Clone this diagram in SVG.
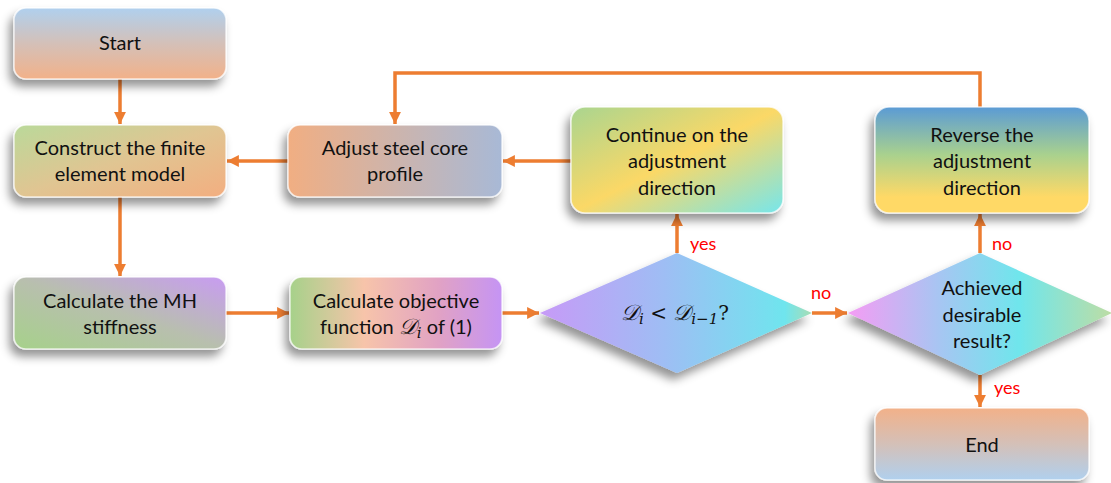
<svg xmlns="http://www.w3.org/2000/svg" width="1111" height="483" viewBox="0 0 1111 483">
<defs>
  <filter id="sh" x="-20%" y="-20%" width="140%" height="160%">
    <feDropShadow dx="-4" dy="7" stdDeviation="5" flood-color="#000" flood-opacity="0.42"/>
  </filter>
  <linearGradient id="gStart" x1="0" y1="0" x2="0" y2="1">
    <stop offset="0" stop-color="#B0D0EE"/><stop offset="0.5" stop-color="#D4C0B8"/><stop offset="1" stop-color="#F2B189"/>
  </linearGradient>
  <linearGradient id="gEnd" x1="0" y1="0" x2="0" y2="1">
    <stop offset="0" stop-color="#F2B189"/><stop offset="0.5" stop-color="#D4C0B8"/><stop offset="1" stop-color="#B0D0EE"/>
  </linearGradient>
  <linearGradient id="gCons" x1="0" y1="0" x2="1" y2="1">
    <stop offset="0" stop-color="#BAD99A"/><stop offset="0.5" stop-color="#E0C592"/><stop offset="1" stop-color="#F3AE80"/>
  </linearGradient>
  <linearGradient id="gAdj" x1="0" y1="0" x2="1" y2="0">
    <stop offset="0" stop-color="#F1AE82"/><stop offset="0.5" stop-color="#CDB4AC"/><stop offset="1" stop-color="#A8B9D6"/>
  </linearGradient>
  <linearGradient id="gCont" x1="0" y1="0" x2="1" y2="1">
    <stop offset="0" stop-color="#A9D590"/><stop offset="0.5" stop-color="#FBD866"/><stop offset="1" stop-color="#76E6EC"/>
  </linearGradient>
  <linearGradient id="gRev" x1="0" y1="0" x2="0" y2="1">
    <stop offset="0" stop-color="#5B9BD5"/><stop offset="0.45" stop-color="#A9D18E"/><stop offset="0.85" stop-color="#FFD966"/><stop offset="1" stop-color="#FFD966"/>
  </linearGradient>
  <linearGradient id="gMH" x1="0" y1="1" x2="1" y2="0">
    <stop offset="0" stop-color="#A6D18A"/><stop offset="0.5" stop-color="#B8BFAE"/><stop offset="1" stop-color="#C89CF2"/>
  </linearGradient>
  <linearGradient id="gObj" x1="0" y1="0" x2="1" y2="0">
    <stop offset="0" stop-color="#A6D18A"/><stop offset="0.35" stop-color="#F7C4AA"/><stop offset="0.7" stop-color="#E1A2C4"/><stop offset="1" stop-color="#C594F4"/>
  </linearGradient>
  <linearGradient id="gD1" x1="0" y1="0" x2="1" y2="0">
    <stop offset="0" stop-color="#C79AF7"/><stop offset="0.45" stop-color="#9FBDF4"/><stop offset="0.9" stop-color="#6FE5EE"/><stop offset="1" stop-color="#A8DDB4"/>
  </linearGradient>
  <linearGradient id="gD2" x1="0" y1="0" x2="1" y2="0">
    <stop offset="0" stop-color="#F59CF4"/><stop offset="0.35" stop-color="#A6C6F2"/><stop offset="0.65" stop-color="#6FE6EC"/><stop offset="1" stop-color="#BDDDA4"/>
  </linearGradient>
  <marker id="ah" viewBox="0 0 10 10" refX="10" refY="5" markerWidth="3.4" markerHeight="3.4" orient="auto" markerUnits="strokeWidth">
    <path d="M0,0 L10,5 L0,10 Z" fill="#ED7D31"/>
  </marker>
  <style>
    .box { stroke: #ffffff; stroke-opacity: 0.7; stroke-width: 1.5; filter: url(#sh); }
    .t { font-family: Lato, "Liberation Sans", sans-serif; font-size: 20px; fill: #111; text-anchor: middle; }
    .m { font-family: "DejaVu Serif", "Liberation Serif", serif; font-style: italic; font-size: 22px; }
    .s { font-family: "DejaVu Serif", "Liberation Serif", serif; font-style: italic; font-size: 15px; }
    .op { font-family: "DejaVu Serif", "Liberation Serif", serif; font-size: 20px; }
    .lbl { font-family: Lato, "Liberation Sans", sans-serif; font-size: 18px; fill: #FF0000; }
    .c { fill: none; stroke: #ED7D31; stroke-width: 3.5; marker-end: url(#ah); }
  </style>
</defs>

<g id="connectors">
  <path class="c" d="M120,79 V124"/>
  <path class="c" d="M120,197 V276"/>
  <path class="c" d="M288,161 H227"/>
  <path class="c" d="M571,161 H503"/>
  <path class="c" d="M226,313 H289"/>
  <path class="c" d="M502,313 H539"/>
  <path class="c" d="M677,253 V214"/>
  <path class="c" d="M812,313 H847"/>
  <path class="c" d="M980,253 V214"/>
  <path class="c" d="M980,375 V407"/>
  <path class="c" d="M980,107 V73 H395 V124"/>
  <text class="lbl" x="690" y="250">yes</text>
  <text class="lbl" x="811" y="299">no</text>
  <text class="lbl" x="992" y="250">no</text>
  <text class="lbl" x="994" y="394">yes</text>
</g>

<g id="start">
  <rect class="box" x="14" y="8" width="212" height="71" rx="12" fill="url(#gStart)"/>
  <text class="t" x="120" y="50">Start</text>
</g>
<g id="construct">
  <rect class="box" x="14" y="125" width="212" height="72" rx="12" fill="url(#gCons)"/>
  <text class="t" x="120" y="155">Construct the finite</text>
  <text class="t" x="120" y="181">element model</text>
</g>
<g id="adjust">
  <rect class="box" x="288" y="125" width="214" height="72" rx="12" fill="url(#gAdj)"/>
  <text class="t" x="395" y="155">Adjust steel core</text>
  <text class="t" x="395" y="181">profile</text>
</g>
<g id="continue">
  <rect class="box" x="571" y="107" width="212" height="106" rx="14" fill="url(#gCont)"/>
  <text class="t" x="677" y="142">Continue on the</text>
  <text class="t" x="677" y="168">adjustment</text>
  <text class="t" x="677" y="195">direction</text>
</g>
<g id="reverse">
  <rect class="box" x="875" y="107" width="214" height="106" rx="14" fill="url(#gRev)"/>
  <text class="t" x="982" y="142">Reverse the</text>
  <text class="t" x="982" y="168">adjustment</text>
  <text class="t" x="982" y="195">direction</text>
</g>
<g id="calc-mh">
  <rect class="box" x="14" y="277" width="212" height="72" rx="12" fill="url(#gMH)"/>
  <text class="t" x="120" y="308">Calculate the MH</text>
  <text class="t" x="120" y="334">stiffness</text>
</g>
<g id="calc-obj">
  <rect class="box" x="290" y="277" width="212" height="72" rx="12" fill="url(#gObj)"/>
  <text class="t" x="396" y="308">Calculate objective</text>
  <text class="t" x="396" y="334">function <tspan class="m">𝒟</tspan><tspan class="s" dy="4">i</tspan><tspan dy="-4"> of (1)</tspan></text>
</g>
<g id="decision1">
  <path d="M540,313 L677,253 L812,313 L677,373 Z" fill="url(#gD1)" filter="url(#sh)"/>
  <text class="t" x="675" y="320"><tspan class="m">𝒟</tspan><tspan class="s" dy="4">i</tspan><tspan class="op" dy="-4"> &lt; </tspan><tspan class="m">𝒟</tspan><tspan class="s" dy="4">i−1</tspan><tspan class="op" dy="-4">?</tspan></text>
</g>
<g id="decision2">
  <path d="M848,313 L980,253 L1112,313 L980,375 Z" fill="url(#gD2)" filter="url(#sh)"/>
  <text class="t" x="982" y="295">Achieved</text>
  <text class="t" x="982" y="322">desirable</text>
  <text class="t" x="982" y="348">result?</text>
</g>
<g id="end">
  <rect class="box" x="875" y="408" width="214" height="72" rx="12" fill="url(#gEnd)"/>
  <text class="t" x="982" y="452">End</text>
</g>
</svg>
